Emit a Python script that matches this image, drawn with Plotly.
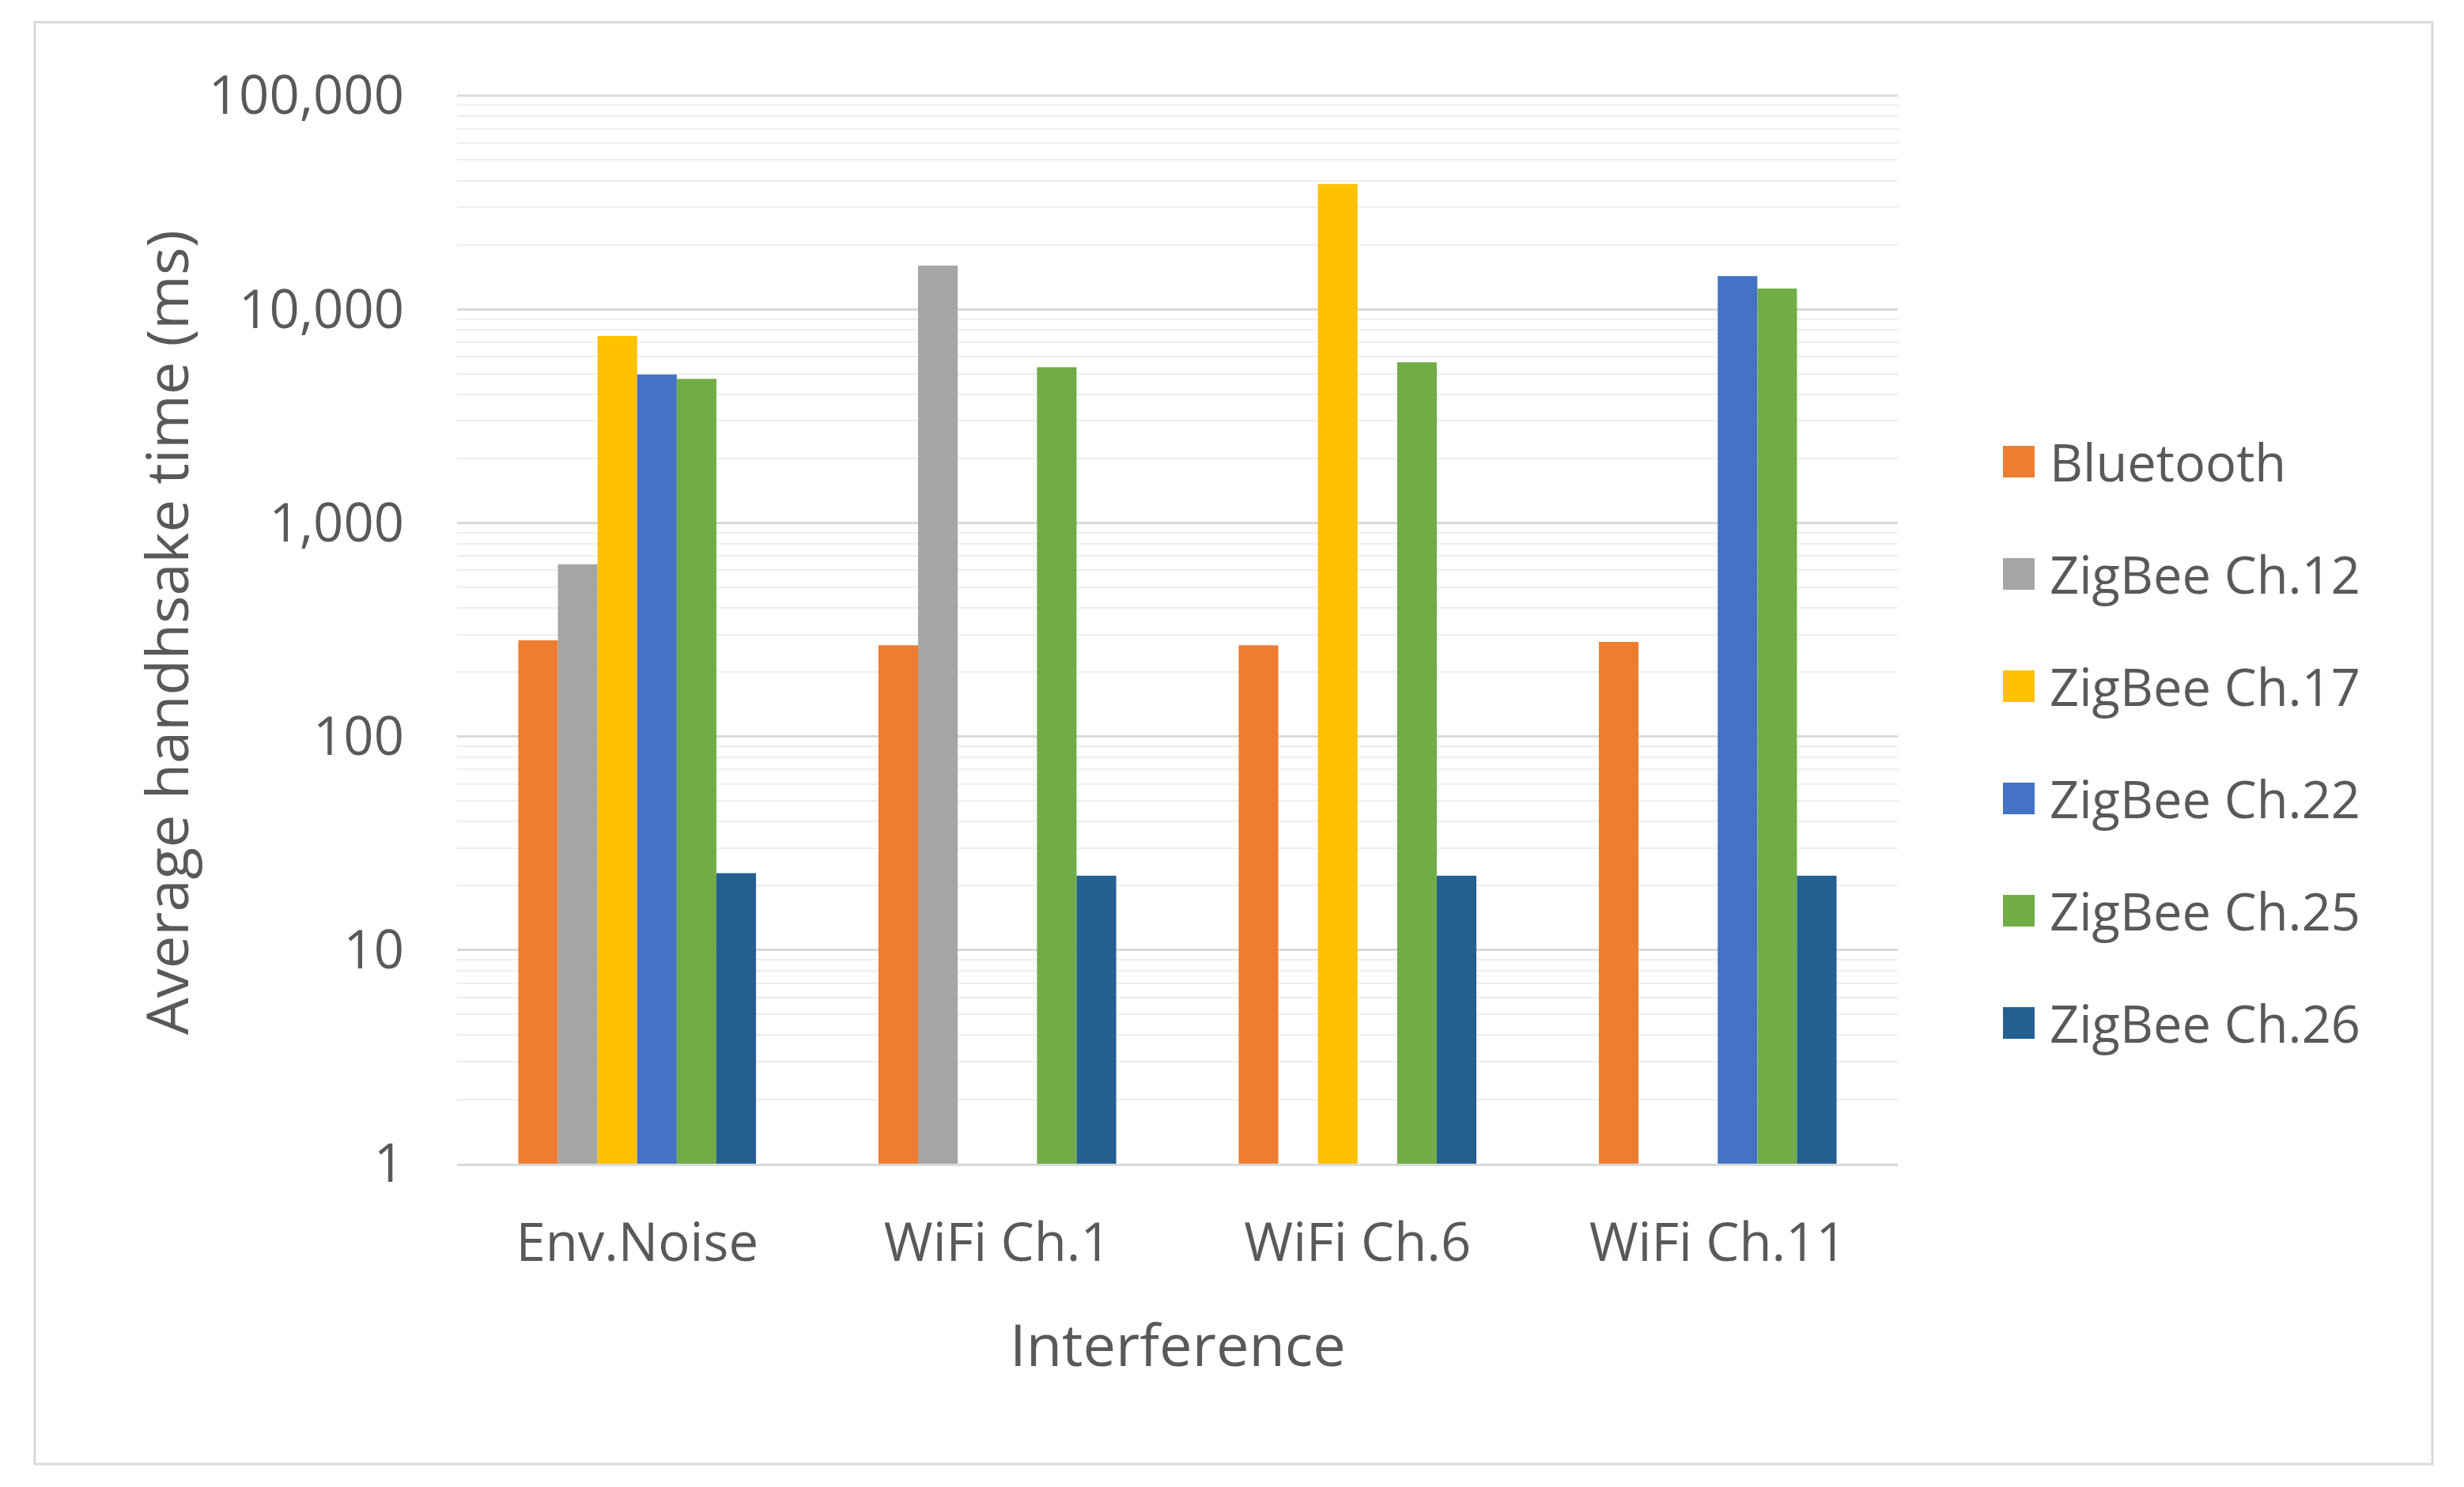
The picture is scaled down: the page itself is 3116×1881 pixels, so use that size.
import plotly.graph_objects as go

categories = ["Env.Noise", "WiFi Ch.1", "WiFi Ch.6", "WiFi Ch.11"]
series_names = ["Bluetooth", "ZigBee Ch.12", "ZigBee Ch.17", "ZigBee Ch.22", "ZigBee Ch.25", "ZigBee Ch.26"]
bluetooth = [282, 267, 267, 277]
zigbee_12 = [640, 16000, None, None]
zigbee_17 = [7500, None, 38600, None]
zigbee_22 = [4950, None, None, 14300]
zigbee_25 = [4720, 5350, 5650, 12500]
zigbee_26 = [22.9, 22.3, 22.3, 22.3]
series_values = [bluetooth, zigbee_12, zigbee_17, zigbee_22, zigbee_25, zigbee_26]
colors = ["#ED7D31", "#A5A5A5", "#FFC000", "#4472C4", "#70AD47", "#255E91"]

tick_vals = [1, 10, 100, 1000, 10000, 100000]
tick_text = ["1", "10", "100", "1,000", "10,000", "100,000"]

FONT = "Open Sans"
TXT = "#595959"

fig = go.Figure()
for name, vals, col in zip(series_names, series_values, colors):
    fig.add_trace(go.Bar(x=categories, y=vals, name=name, marker_color=col,
                         marker_line_width=0, showlegend=False))

# page body has an 8px margin: work in figure coords = page coords - 8
OFF = 8
W, H = 3116 - 2 * OFF, 1881 - 2 * OFF
L, R, T, B = 578 - OFF, 2400 - OFF, 121 - OFF, 1472 - OFF
pw, ph = R - L, B - T

def px2x(px):
    return (px - OFF - L) / pw

def px2y(py):
    return (B - (py - OFF)) / ph

shapes = [
    dict(type="rect", xref="paper", yref="paper",
         x0=px2x(44), x1=px2x(3076), y0=px2y(1852), y1=px2y(28),
         line=dict(color="#D9D9D9", width=3), fillcolor="rgba(0,0,0,0)", layer="below"),
    dict(type="line", xref="paper", yref="paper", x0=0, x1=1, y0=1, y1=1,
         line=dict(color="#D9D9D9", width=3), layer="below"),
]
annotations = [
    dict(text="Interference", xref="paper", yref="paper", x=0.5, y=px2y(1699),
         xanchor="center", yanchor="middle", showarrow=False,
         font=dict(family=FONT, size=74, color=TXT)),
    dict(text="Average handhsake time (ms)", xref="paper", yref="paper", x=px2x(209), y=px2y(800),
         xanchor="center", yanchor="middle", showarrow=False, textangle=-90,
         font=dict(family=FONT, size=74, color=TXT)),
]
# manual legend
leg_y0 = 584
leg_step = 142.0
for i, (name, col) in enumerate(zip(series_names, colors)):
    cy = leg_y0 + i * leg_step
    shapes.append(dict(type="rect", xref="paper", yref="paper",
                       x0=px2x(2533), x1=px2x(2573), y0=px2y(cy + 20), y1=px2y(cy - 20),
                       fillcolor=col, line=dict(width=0)))
    annotations.append(dict(text=name, xref="paper", yref="paper", x=px2x(2590), y=px2y(cy),
                            xanchor="left", yanchor="middle", showarrow=False,
                            font=dict(family=FONT, size=65, color=TXT)))

fig.update_layout(
    width=W, height=H,
    margin=dict(l=L, r=W - R, t=T, b=H - B, pad=0),
    paper_bgcolor="white", plot_bgcolor="white",
    barmode="group", bargap=0.34, bargroupgap=0,
    font=dict(family=FONT, color=TXT, size=62),
    shapes=shapes, annotations=annotations,
    showlegend=False,
)
fig.update_yaxes(type="log", range=[0, 5], tickvals=tick_vals, ticktext=tick_text,
                 showgrid=True, gridcolor="#D9D9D9", gridwidth=3,
                 minor=dict(dtick="D1", showgrid=True, gridcolor="#EEEEEE", gridwidth=2),
                 zeroline=False, showline=False, ticks="",
                 ticklabelstandoff=66,
                 tickfont=dict(family=FONT, size=67, color=TXT))
fig.update_xaxes(showline=True, linecolor="#D9D9D9", linewidth=3, ticks="",
                 ticklabelstandoff=40,
                 tickfont=dict(family=FONT, size=67, color=TXT))

fig.write_html("out.html")
